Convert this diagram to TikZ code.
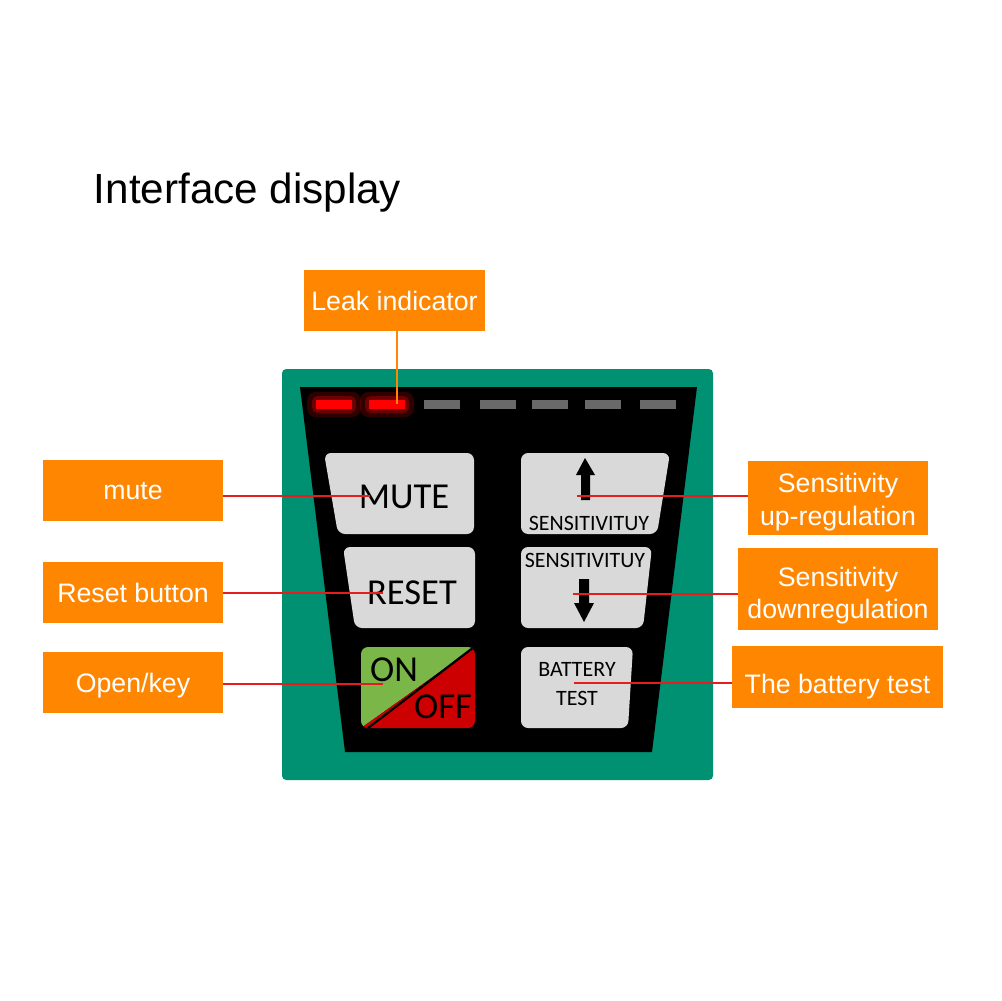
\documentclass[tikz,border=0pt]{standalone}
\usepackage{fontspec}
\setmainfont{Liberation Sans}
\newfontfamily\keyfont{Carlito}
\usetikzlibrary{positioning}
\definecolor{panelgreen}{RGB}{0,144,114}
\definecolor{calloutorange}{RGB}{255,134,0}
\definecolor{keygray}{RGB}{217,217,217}
\definecolor{ledgray}{RGB}{105,105,105}
\definecolor{ongreen}{RGB}{122,182,72}
\definecolor{offred}{RGB}{204,0,0}
\definecolor{pointred}{RGB}{228,30,30}
\begin{document}
\begin{tikzpicture}[x=0.025cm, y=-0.025cm,
    callout/.style = {fill=calloutorange, text=white, inner sep=0pt, align=center, font=\fontsize{19}{22.5}\selectfont},
    callouttext/.style = {text=white, inner sep=0pt, align=center, font=\fontsize{19}{23}\selectfont},
    keycap/.style = {fill=keygray, rounded corners=5pt},
    keytext/.style = {font=\keyfont\fontsize{26}{30}\selectfont, inner sep=0pt},
    smalltext/.style = {font=\keyfont\fontsize{15.6}{21}\selectfont, inner sep=0pt, align=center},
    pointer/.style = {draw=pointred, line width=0.8pt}]
  \useasboundingbox[fill=white] (0,0) rectangle (1001,1001);

  \node[anchor=base west, font=\fontsize{30}{36}\selectfont] (title) at (89,203) {Interface display};

  % panel
  \fill[panelgreen, rounded corners=3pt] (282,369) rectangle (713,780);
  \fill[black] (300,387) -- (697,387) -- (652,752) -- (345,752) -- cycle;

  % leds
  \foreach \x in {316,369,424,480,532,585,640}
    \fill[ledgray] (\x,400) rectangle +(36,9);
  \foreach \x in {316,369} {
    \fill[red, opacity=0.18, rounded corners=6pt] (\x-9,392) rectangle +(54,25);
    \fill[red, opacity=0.3, rounded corners=4pt] (\x-4,396) rectangle +(44,17);
    \fill[red] (\x,400) rectangle +(36,9);
  }
  \coordinate (led2) at (397,404);

  % keys, left column
  \fill[keycap] (324,453) -- (474,453) -- (474,534) -- (338,534) -- cycle;
  \node[keytext] (mutekey) at (404,497) {MUTE};
  \fill[keycap] (343,547) -- (475,547) -- (475,628) -- (355,628) -- cycle;
  \node[keytext] (resetkey) at (412,593) {RESET};
  \begin{scope}
    \clip[rounded corners=5pt] (361,647) rectangle (475,728);
    \fill[ongreen] (361,647) -- (475,647) -- (361,728) -- cycle;
    \fill[offred] (475,647) -- (475,728) -- (361,728) -- cycle;
    \draw[line width=1.6pt] (474,647) -- (368,728);
  \end{scope}
  \node[keytext] (onkey) at (394,670) {ON};
  \node[keytext] (offkey) at (443,707) {OFF};

  % keys, right column
  \fill[keycap] (521,453) -- (670,453) -- (657,534) -- (521,534) -- cycle;
  \fill (585,458) -- (595,475) -- (590,475) -- (590,500) -- (581,500) -- (581,475) -- (576,475) -- cycle;
  \node[smalltext] (upkey) at (589,523) {SENSITIVITUY};
  \fill[keycap] (521,547) -- (652,547) -- (643,628) -- (521,628) -- cycle;
  \node[smalltext] (downkey) at (585,560) {SENSITIVITUY};
  \fill (579,579) -- (589,579) -- (589,603) -- (594,603) -- (584,622) -- (574,603) -- (579,603) -- cycle;
  \fill[keycap] (521,647) -- (633,647) -- (628,728) -- (521,728) -- cycle;
  \node[smalltext] (batterykey) at (577,684) {BATTERY\\TEST};

  % line ends
  \coordinate (muteend) at (370,496);
  \coordinate (resetend) at (383,593);
  \coordinate (onend) at (383,684);
  \coordinate (upend) at (577,496);
  \coordinate (downend) at (573,594);
  \coordinate (batteryend) at (574,683);

  % callouts
  \node[callout, minimum width=4.525cm, minimum height=1.525cm] (leak) at (394.5,300.5) {Leak indicator};
  \node[callout, minimum width=4.5cm, minimum height=1.525cm] (mute) at (133,490.5) {mute};
  \node[callout, minimum width=4.5cm, minimum height=1.525cm] (reset) [below of=mute, node distance=2.55cm] {Reset button};
  \node[callout, minimum width=4.5cm, minimum height=1.525cm] (open) [below of=reset, node distance=2.25cm,
    label={[callouttext, yshift=-2pt]center:Open/key}] {};
  \node[callout, minimum width=4.5cm, minimum height=1.85cm] (up) at (838,498)
    [label={[callouttext, yshift=-3pt]center:{Sensitivity\\up-regulation}}] {};
  \node[callout, minimum width=5cm, minimum height=2.05cm] (down) at (838,589)
    [label={[callouttext, yshift=-4.5pt]center:{Sensitivity\\downregulation}}] {};
  \node[callout, minimum width=5.275cm, minimum height=1.55cm] (battery) at (837.5,677)
    [label={[callouttext, yshift=-6.5pt]center:The battery test}] {};

  \draw[draw=calloutorange, line width=0.8pt] (leak.south -| led2) -- (led2);
  \draw[pointer] (mute.east |- muteend) -- (muteend);
  \draw[pointer] (reset.east |- resetend) -- (resetend);
  \draw[pointer] (open.east |- onend) -- (onend);
  \draw[pointer] (up.west |- upend) -- (upend);
  \draw[pointer] (down.west |- downend) -- (downend);
  \draw[pointer] (battery.west |- batteryend) -- (batteryend);
\end{tikzpicture}
\end{document}
